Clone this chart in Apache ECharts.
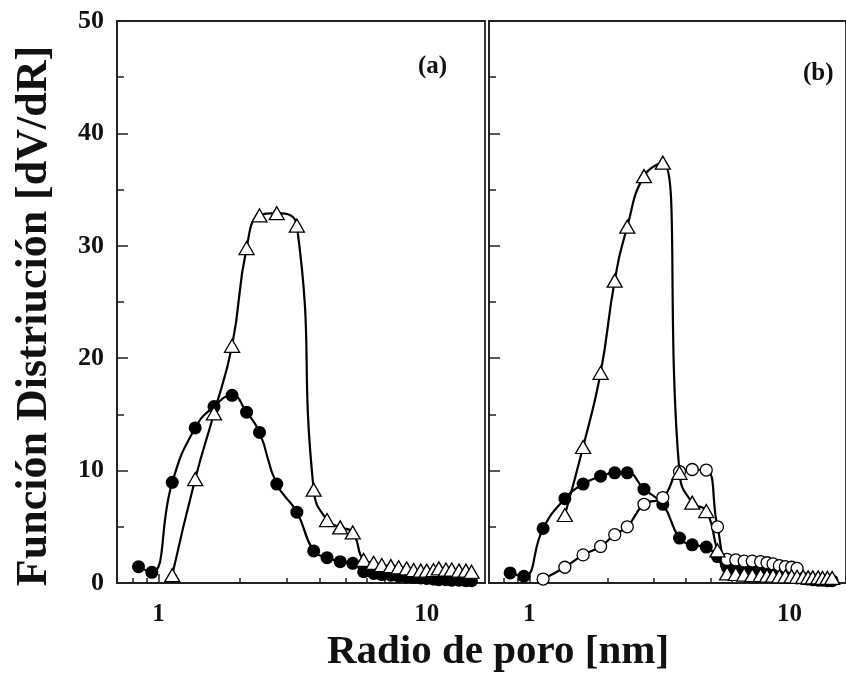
<!DOCTYPE html>
<html>
<head>
<meta charset="utf-8">
<script src="https://cdn.jsdelivr.net/npm/echarts@6/dist/echarts.min.js"></script>
<style>
html,body{margin:0;padding:0;background:#fff;}
#main{width:846px;height:676px;}
</style>
</head>
<body>
<div id="main"></div>
<script>
// panel (a): radios [nm] y valores
var radiosA = [0.842, 0.944, 1.125, 1.37, 1.61, 1.88, 2.13, 2.38, 2.76, 3.28, 3.79, 4.25, 4.76, 5.30, 5.82, 6.34, 6.80, 7.35, 7.86, 8.42, 8.94, 9.50, 10.0, 10.6, 11.1, 11.8, 12.4, 13.2, 14.0, 14.7];
var circulosA = [1.45, 0.95, 8.96, 13.8, 15.7, 16.7, 15.2, 13.4, 8.8, 6.3, 2.85, 2.25, 1.9, 1.75, 1.0, 0.85, 0.75, 0.7, 0.6, 0.55, 0.5, 0.45, 0.4, 0.35, 0.3, 0.3, 0.25, 0.25, 0.2, 0.2];
var triangulosA = [null, null, 0.7, 9.25, 15.1, 21.1, 29.8, 32.7, 32.9, 31.8, 8.3, 5.6, 4.95, 4.5, 2.05, 1.8, 1.6, 1.5, 1.4, 1.3, 1.15, 1.1, 1.1, 1.15, 1.3, 1.2, 1.2, 1.1, 1.1, 1.0];

// panel (b)
var radiosB = [0.844, 0.953, 1.13, 1.37, 1.61, 1.88, 2.13, 2.38, 2.76, 3.26, 3.78, 4.23, 4.79, 5.29, 5.76, 6.22, 6.70, 7.20, 7.75, 8.20, 8.65, 9.15, 9.65, 10.2, 10.7, 11.3, 11.8, 12.3, 12.9, 13.4, 14.0, 14.6];
var circulosB = [0.9, 0.6, 4.85, 7.5, 8.8, 9.5, 9.8, 9.8, 8.35, 7.0, 4.0, 3.4, 3.2, 2.35, 1.5, 1.3, 1.2, 1.1, 1.0, 0.9, 0.8, 0.7, 0.6, 0.5, 0.45, 0.4, 0.35, 0.3, 0.25, 0.25, 0.2, 0.2];
var abiertosB = [null, null, 0.35, 1.4, 2.5, 3.25, 4.3, 5.0, 7.0, 7.6, 9.9, 10.1, 10.05, 5.0, 2.1, 2.05, 1.95, 1.95, 1.9, 1.8, 1.7, 1.55, 1.45, 1.4, 1.3, null, null, null, null, null, null, null];
var triangulosB = [null, null, null, 6.05, 12.1, 18.7, 26.9, 31.7, 36.2, 37.4, 9.8, 7.15, 6.4, 2.9, 0.85, 0.8, 0.75, 0.7, 0.7, 0.65, 0.65, 0.6, 0.6, 0.6, 0.55, 0.55, 0.5, 0.5, 0.5, 0.45, 0.45, 0.45];

// ticks
var ticksMayores = [1, 10];
var ticksMenores = [0.8, 0.9, 2, 3, 4, 5, 6, 7, 8, 9];

var fuente = '"Liberation Serif", "DejaVu Serif", serif';
var negro = '#111';

function pares(radios, valores) {
    var out = [];
    for (var i = 0; i < radios.length; i++) {
        if (valores[i] != null) out.push([radios[i], valores[i]]);
    }
    return out;
}

function ejeX(grid, mayor) {
    return {
        type: 'log',
        gridIndex: grid,
        position: 'bottom',
        min: 0.7,
        max: 16.5,
        axisLine: {show: mayor, onZero: false, lineStyle: {color: '#222', width: 1.8}},
        axisTick: {
            show: true,
            inside: true,
            length: mayor ? 9 : 5,
            customValues: mayor ? ticksMayores : ticksMenores,
            lineStyle: {color: '#222', width: 1.5}
        },
        axisLabel: {
            show: mayor,
            customValues: ticksMayores,
            margin: 19,
            color: negro,
            fontFamily: fuente,
            fontWeight: 'bold',
            fontSize: 25,
            formatter: function (v) { return String(Math.round(v)); }
        },
        splitLine: {show: false},
        minorTick: {show: false},
        minorSplitLine: {show: false}
    };
}

function ejeY(grid, etiquetas) {
    return {
        type: 'value',
        gridIndex: grid,
        min: 0,
        max: 50,
        interval: 10,
        axisLine: {show: true, lineStyle: {color: '#222', width: 1.8}},
        axisTick: {show: true, inside: true, length: 11, lineStyle: {color: '#222', width: 1.5}},
        minorTick: {show: true, splitNumber: 2, length: 7, lineStyle: {color: '#222', width: 1.5}},
        axisLabel: {
            show: etiquetas,
            margin: 13,
            color: negro,
            fontFamily: fuente,
            fontWeight: 'bold',
            fontSize: 26
        },
        splitLine: {show: false}
    };
}

function serie(nombre, datos, xi, yi, tipo) {
    var s = {
        name: nombre,
        type: 'line',
        xAxisIndex: xi,
        yAxisIndex: yi,
        data: datos,
        smooth: 0.5,
        showAllSymbol: true,
        clip: false,
        lineStyle: {color: '#000', width: 2.2},
        emphasis: {disabled: true}
    };
    if (tipo === 'lleno') {
        s.symbol = 'circle';
        s.symbolSize = 13;
        s.itemStyle = {color: '#000', borderColor: '#000', borderWidth: 0};
    } else if (tipo === 'abierto') {
        s.symbol = 'circle';
        s.symbolSize = 12;
        s.itemStyle = {color: '#fff', borderColor: '#000', borderWidth: 1.3};
    } else {
        s.symbol = 'triangle';
        s.symbolSize = [15, 13];
        s.itemStyle = {color: '#fff', borderColor: '#000', borderWidth: 1.3};
    }
    return s;
}

var myChart = echarts.init(document.getElementById('main'));

var option = {
    backgroundColor: '#fff',
    animation: false,
    grid: [
        {left: 117, top: 21, width: 368, height: 562, show: true, borderColor: '#222', borderWidth: 1.8},
        {left: 489, top: 21, width: 372, height: 562, show: true, borderColor: '#222', borderWidth: 1.8}
    ],
    xAxis: [ejeX(0, true), ejeX(0, false), ejeX(1, true), ejeX(1, false)],
    yAxis: [ejeY(0, true), ejeY(1, false)],
    series: [
        serie('a-llenos', pares(radiosA, circulosA), 0, 0, 'lleno'),
        serie('a-triangulos', pares(radiosA, triangulosA), 0, 0, 'triangulo'),
        serie('b-llenos', pares(radiosB, circulosB), 2, 1, 'lleno'),
        serie('b-abiertos', pares(radiosB, abiertosB), 2, 1, 'abierto'),
        serie('b-triangulos', pares(radiosB, triangulosB), 2, 1, 'triangulo')
    ],
    graphic: [
        {
            type: 'text', left: 418, top: 54,
            style: {text: '(a)', font: 'bold 25px ' + fuente, fill: negro}
        },
        {
            type: 'text', left: 803, top: 61,
            style: {text: '(b)', font: 'bold 25px ' + fuente, fill: negro}
        },
        {
            type: 'text', x: 35, y: 316, rotation: Math.PI / 2,
            style: {text: 'Función Distriución [dV/dR]', font: 'bold 44px ' + fuente, fill: negro,
                    align: 'center', verticalAlign: 'middle'}
        },
        {
            type: 'text', x: 498, y: 652,
            style: {text: 'Radio de poro [nm]', font: 'bold 41px ' + fuente, fill: negro,
                    align: 'center', verticalAlign: 'middle'}
        }
    ]
};

myChart.setOption(option);
</script>
</body>
</html>
